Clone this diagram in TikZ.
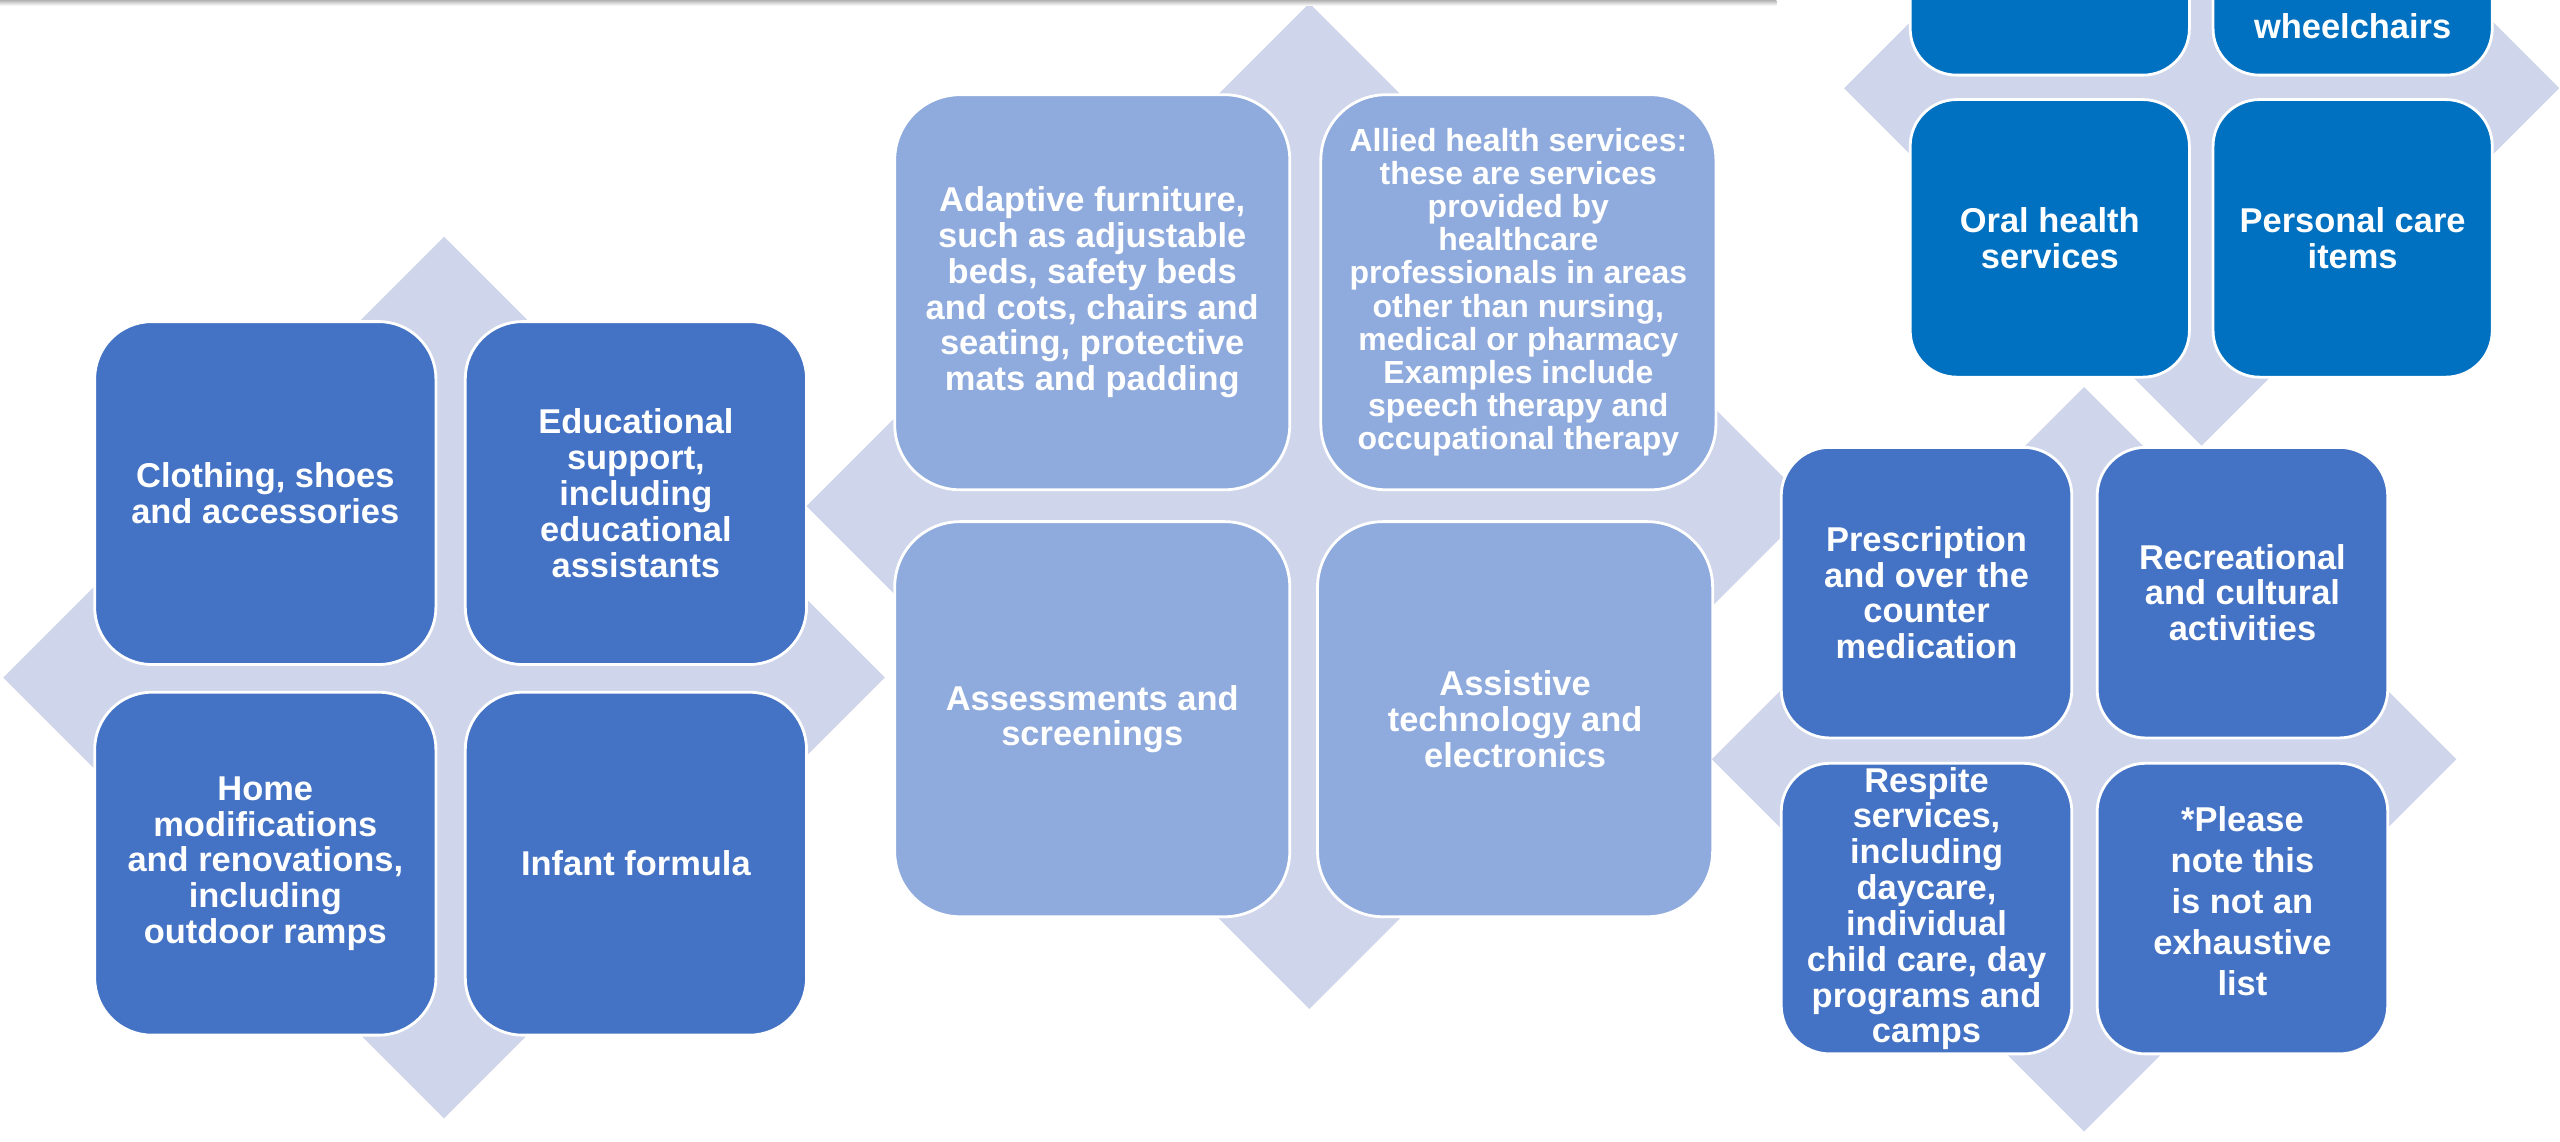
\documentclass[tikz,border=0pt]{standalone}
\usepackage{fontspec}
\setmainfont{Liberation Sans}
\definecolor{dia}{RGB}{207,213,234}
\definecolor{cA}{RGB}{68,114,196}
\definecolor{cB}{RGB}{143,170,220}
\definecolor{cC}{RGB}{0,112,192}
\tikzset{
  diam/.style={fill=dia, draw=none},
  tile/.style={draw=white, line width=0.8pt, inner sep=0pt, outer sep=0pt,
    text=white, align=center, font=\bfseries\fontsize{9.8}{10.2}\selectfont},
  tileA/.style={tile, fill=cA, minimum width=3.412cm, minimum height=3.429cm, rounded corners=0.571cm},
  tileB/.style={tile, fill=cB, minimum width=3.951cm, minimum height=3.951cm, rounded corners=0.653cm},
  tileC/.style={tile, fill=cC, minimum width=2.792cm, minimum height=2.776cm, rounded corners=0.465cm},
  tileD/.style={tile, fill=cA, minimum width=2.906cm, minimum height=2.906cm, rounded corners=0.485cm},
  plain/.style={text=white, align=center, inner sep=0pt, font=\bfseries\fontsize{9.8}{10.2}\selectfont}
}
\begin{document}
\begin{tikzpicture}[x=0.016327cm, y=-0.016327cm]
\useasboundingbox[fill=white] (0,0) rectangle (1568,699);
\begin{scope}
\clip (0,0) rectangle (1568,699);
% cluster 1
\fill[diam] (2,415) -- (272,145) -- (542,415) -- (272,685) -- cycle;
\node[tileA] (clo) at (162.5,302) {Clothing, shoes\\and accessories};
\node[tileA] (edu) at (389.5,302) {Educational\\support,\\including\\educational\\assistants};
\node[tileA] (hom) at (162.5,529) {Home\\modifications\\and renovations,\\including\\outdoor ramps};
\node[tileA] (inf) at (389.5,529) {Infant formula};
% cluster 2
\fill[diam] (494,310) -- (802,2) -- (1110,310) -- (802,618) -- cycle;
\node[tileB] (ada) at (669,179) {Adaptive furniture,\\such as adjustable\\beds, safety beds\\and cots, chairs and\\seating, protective\\mats and padding};
\node[tileB, font=\bfseries\fontsize{9.1}{9.45}\selectfont] (all) at (930,179) {Allied health services:\\these are services\\provided by\\healthcare\\professionals in areas\\other than nursing,\\medical or pharmacy\\Examples include\\speech therapy and\\occupational therapy};
\node[tileB] (ass) at (669,440.5) {Assessments and\\screenings};
\node[tileB] (ast) at (928,440.5) {Assistive\\technology and\\electronics};
% cluster 3
\fill[diam] (1129.5,54) -- (1348.5,-165) -- (1567.5,54) -- (1348.5,273) -- cycle;
\node[tileC] (tl3) at (1255.5,-39) {};
\node[tileC] (tr3) at (1441,-39) {};
\node[plain] (whe) at (1441,16) {wheelchairs};
\node[tileC] (ora) at (1255.5,146) {Oral health\\services};
\node[tileC] (per) at (1441,146) {Personal care\\items};
% cluster 4
\fill[diam] (1048.5,465) -- (1276.5,237) -- (1504.5,465) -- (1276.5,693) -- cycle;
\node[tileD] (pre) at (1180,363) {Prescription\\and over the\\counter\\medication};
\node[tileD] (rec) at (1373.5,363) {Recreational\\and cultural\\activities};
\node[tileD] (res) at (1180,556.5) {Respite\\services,\\including\\daycare,\\individual\\child care, day\\programs and\\camps};
\node[tileD] (ple) at (1373.5,556.5) {};
\node[plain, font=\bfseries\fontsize{9.8}{11.7}\selectfont] (plt) at (1373.5,552) {*Please\\note this\\is not an\\exhaustive\\list};
% top shadow
\shade[top color=black!30, bottom color=white] (0,0) rectangle (1088,3.5);
\end{scope}
\end{tikzpicture}
\end{document}
